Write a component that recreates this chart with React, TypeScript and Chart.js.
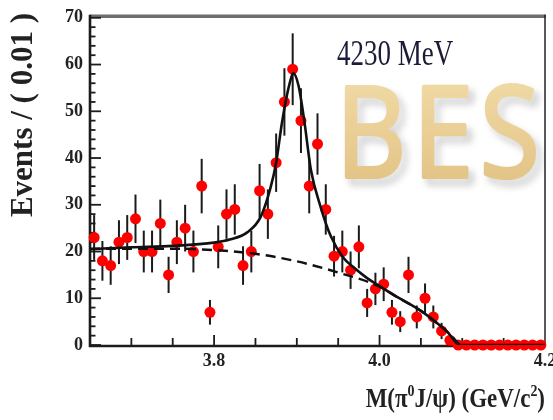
import React, { useEffect, useRef } from "react";
import { Chart, registerables } from "chart.js";

Chart.register(...registerables);

// ---- data ----
const massBins = [
  3.655, 3.665, 3.675, 3.685, 3.695, 3.705, 3.715, 3.725, 3.735, 3.745,
  3.755, 3.765, 3.775, 3.785, 3.795, 3.805, 3.815, 3.825, 3.835, 3.845,
  3.855, 3.865, 3.875, 3.885, 3.895, 3.905, 3.915, 3.925, 3.935, 3.945,
  3.955, 3.965, 3.975, 3.985, 3.995, 4.005, 4.015, 4.025, 4.035, 4.045,
  4.055, 4.065, 4.075, 4.085, 4.095, 4.105, 4.115, 4.125, 4.135, 4.145,
  4.155, 4.165, 4.175, 4.185, 4.195,
];
const counts = [
  23, 18, 17, 22, 23, 27, 20, 20, 26, 15,
  22, 25, 20, 34, 7, 21, 28, 29, 17, 20,
  33, 28, 39, 52, 59, 48, 34, 43, 29, 19,
  20, 16, 21, 9, 12, 13, 7, 5, 15, 6,
  10, 6, 3, 1, 0, 0, 0, 0, 0, 0,
  0, 0, 0, 0, 0,
];
const fitX = [3.65, 3.7, 3.75, 3.8, 3.82, 3.84, 3.856, 3.868, 3.875, 3.882, 3.89, 3.896, 3.902, 3.909, 3.917, 3.929, 3.941, 3.956, 3.97, 3.985, 4.0, 4.02, 4.05, 4.07, 4.082, 4.097, 4.2];
const fitY = [20.5, 20.9, 21.2, 21.9, 22.6, 24.1, 27.3, 33.5, 39, 47.5, 55, 58.1, 55.5, 48, 37.5, 29.4, 23.3, 18.7, 16.4, 14.3, 12.6, 10.4, 7.3, 4.6, 2.8, 0, 0];
const bkgX = [3.65, 3.75, 3.8, 3.85, 3.9, 3.95, 4.0, 4.02, 4.05, 4.07, 4.082, 4.097];
const bkgY = [20.6, 20.6, 20.3, 19.5, 17.9, 15.5, 12.5, 10.4, 7.3, 4.6, 2.8, 0];
const xTickValues = [3.8, 4.0, 4.2];
const xTickLabels = ["3.8", "4.0", "4.2"];
const yTitle = "Events / ( 0.01 )";
const energyLabel = "4230 MeV";
const watermark = "BES";

const SERIF = '"Liberation Serif", "Times New Roman", serif';

const decorPlugin = {
  id: "decor",
  beforeDatasetsDraw(chart: any) {
    const { ctx, chartArea: a, scales } = chart;
    const x = scales.x;
    const y = scales.y;

    // watermark
    ctx.save();
    ctx.beginPath();
    ctx.rect(a.left, a.top, a.right - a.left, a.bottom - a.top);
    ctx.clip();
    ctx.translate(336, 177);
    ctx.scale(0.86, 1);
    ctx.font = '126px "Open Sans", "DejaVu Sans", sans-serif';
    ctx.textBaseline = "alphabetic";
    ctx.textAlign = "left";
    (ctx as any).letterSpacing = "8px";
    const g = ctx.createLinearGradient(0, -95, 0, 0);
    g.addColorStop(0, "#f0d9a4");
    g.addColorStop(1, "#e4c588");
    ctx.fillStyle = g;
    ctx.strokeStyle = g;
    ctx.lineJoin = "round";
    ctx.lineWidth = 4;
    ctx.shadowColor = "rgba(90,90,90,0.4)";
    ctx.shadowBlur = 7;
    ctx.shadowOffsetX = 5;
    ctx.shadowOffsetY = 6;
    ctx.strokeText(watermark, 0, 0);
    ctx.shadowColor = "rgba(0,0,0,0)";
    ctx.fillText(watermark, 0, 0);
    ctx.restore();

    // frame
    ctx.save();
    ctx.lineCap = "butt";
    ctx.strokeStyle = "#6d6d6d";
    ctx.lineWidth = 3.5;
    ctx.beginPath();
    ctx.moveTo(a.left, a.top - 1.5);
    ctx.lineTo(a.right + 1, a.top - 1.5);
    ctx.stroke();
    ctx.strokeStyle = "#222";
    ctx.lineWidth = 1.5;
    ctx.beginPath();
    ctx.moveTo(a.right, a.top - 3);
    ctx.lineTo(a.right, a.bottom);
    ctx.stroke();
    ctx.strokeStyle = "#1c1c1c";
    ctx.lineWidth = 2.6;
    ctx.beginPath();
    ctx.moveTo(a.left, a.top - 3);
    ctx.lineTo(a.left, a.bottom + 1);
    ctx.lineTo(a.right, a.bottom + 1);
    ctx.stroke();

    // y ticks (inside)
    ctx.lineWidth = 1.8;
    for (let v = 0; v <= 70; v += 2) {
      const py = y.getPixelForValue(v);
      const len = v % 10 === 0 ? 11 : 5.5;
      ctx.beginPath();
      ctx.moveTo(a.left, py);
      ctx.lineTo(a.left + len, py);
      ctx.stroke();
    }
    // x ticks (inside)
    for (let k = 1; k <= 11; k++) {
      const v = 3.65 + 0.05 * k;
      const major = xTickValues.some((t) => Math.abs(t - v) < 1e-6);
      const px = x.getPixelForValue(v);
      if (px > a.right - 1) continue;
      ctx.beginPath();
      ctx.moveTo(px, a.bottom);
      ctx.lineTo(px, a.bottom - (major ? 10 : 7));
      ctx.stroke();
    }

    // error bars
    ctx.strokeStyle = "#1a1a1a";
    ctx.lineWidth = 2;
    massBins.forEach((m, i) => {
      const c = counts[i];
      const e = Math.sqrt(c);
      if (e <= 0) return;
      const px = x.getPixelForValue(m);
      ctx.beginPath();
      ctx.moveTo(px, y.getPixelForValue(Math.max(0, c - e)));
      ctx.lineTo(px, y.getPixelForValue(c + e));
      ctx.stroke();
    });
    ctx.restore();
  },
  afterDraw(chart: any) {
    const { ctx, chartArea: a, scales } = chart;
    const x = scales.x;
    ctx.save();

    // x tick labels
    ctx.fillStyle = "#222";
    ctx.font = `bold 18px ${SERIF}`;
    ctx.textAlign = "center";
    ctx.textBaseline = "middle";
    xTickValues.forEach((v, i) => {
      ctx.fillText(xTickLabels[i], x.getPixelForValue(v), a.bottom + 16);
    });

    // energy label
    ctx.save();
    ctx.translate(337, 65);
    ctx.scale(0.75, 1);
    ctx.font = `36px ${SERIF}`;
    ctx.fillStyle = "#1b1b38";
    ctx.textAlign = "left";
    ctx.textBaseline = "alphabetic";
    ctx.fillText(energyLabel, 0, 0);
    ctx.restore();

    // y title
    ctx.save();
    ctx.translate(24, 13);
    ctx.rotate(-Math.PI / 2);
    ctx.font = `bold 31px ${SERIF}`;
    ctx.fillStyle = "#222";
    ctx.textAlign = "right";
    ctx.textBaseline = "middle";
    ctx.fillText(yTitle, 0, 0);
    ctx.restore();

    // x title with superscripts
    const parts: [string, boolean][] = [
      ["M(\u03c0", false],
      ["0", true],
      ["J/\u03c8) (GeV/c", false],
      ["2", true],
      [")", false],
    ];
    const big = `bold 28px ${SERIF}`;
    const small = `bold 17px ${SERIF}`;
    let total = 0;
    parts.forEach(([t, sup]) => {
      ctx.font = sup ? small : big;
      total += ctx.measureText(t).width;
    });
    const sx = 0.82;
    ctx.save();
    ctx.translate(a.right - total * sx, 407);
    ctx.scale(sx, 1);
    ctx.fillStyle = "#222";
    ctx.textAlign = "left";
    ctx.textBaseline = "alphabetic";
    let cx = 0;
    parts.forEach(([t, sup]) => {
      ctx.font = sup ? small : big;
      ctx.fillText(t, cx, sup ? -11 : 0);
      cx += ctx.measureText(t).width;
    });
    ctx.restore();

    ctx.restore();
  },
};

export default function App() {
  const ref = useRef<HTMLCanvasElement | null>(null);

  useEffect(() => {
    document.body.style.margin = "0";
    if (!ref.current) return;
    const chart = new Chart(ref.current, {
      type: "scatter",
      data: {
        datasets: [
          {
            label: "fit",
            data: fitX.map((v, i) => ({ x: v, y: fitY[i] })),
            showLine: true,
            borderColor: "#111",
            borderWidth: 2.6,
            pointRadius: 0,
            cubicInterpolationMode: "monotone",
            order: 1,
          } as any,
          {
            label: "background",
            data: bkgX.map((v, i) => ({ x: v, y: bkgY[i] })),
            showLine: true,
            borderColor: "#111",
            borderWidth: 2.5,
            borderDash: [10, 6],
            pointRadius: 0,
            cubicInterpolationMode: "monotone",
            order: 2,
          } as any,
          {
            label: "data",
            data: massBins.map((m, i) => ({ x: m, y: counts[i] })),
            showLine: false,
            pointRadius: 5.5,
            pointBackgroundColor: "#ff0000",
            pointBorderWidth: 0,
            backgroundColor: "#ff0000",
            borderColor: "#ff0000",
            clip: false,
            order: 3,
          } as any,
        ],
      },
      options: {
        animation: false,
        responsive: false,
        devicePixelRatio: 1,
        layout: { padding: { top: 16, right: 8, left: 0, bottom: 0 } },
        plugins: {
          legend: { display: false },
          tooltip: { enabled: false },
        },
        scales: {
          x: {
            type: "linear",
            min: 3.65,
            max: 4.2,
            grid: { display: false },
            border: { display: false },
            ticks: { display: false },
            afterFit: (s: any) => {
              s.height = 75;
            },
          },
          y: {
            min: 0,
            max: 70,
            grid: { display: false, drawTicks: false },
            border: { display: false },
            ticks: {
              stepSize: 10,
              padding: 7,
              color: "#222",
              font: { family: SERIF, size: 18, weight: "bold" },
            },
            afterFit: (s: any) => {
              s.width = 90;
            },
          },
        },
      },
      plugins: [decorPlugin],
    });
    return () => chart.destroy();
  }, []);

  return (
    <div style={{ position: "absolute", left: 0, top: 0 }}>
      <canvas ref={ref} width={553} height={420} />
    </div>
  );
}
